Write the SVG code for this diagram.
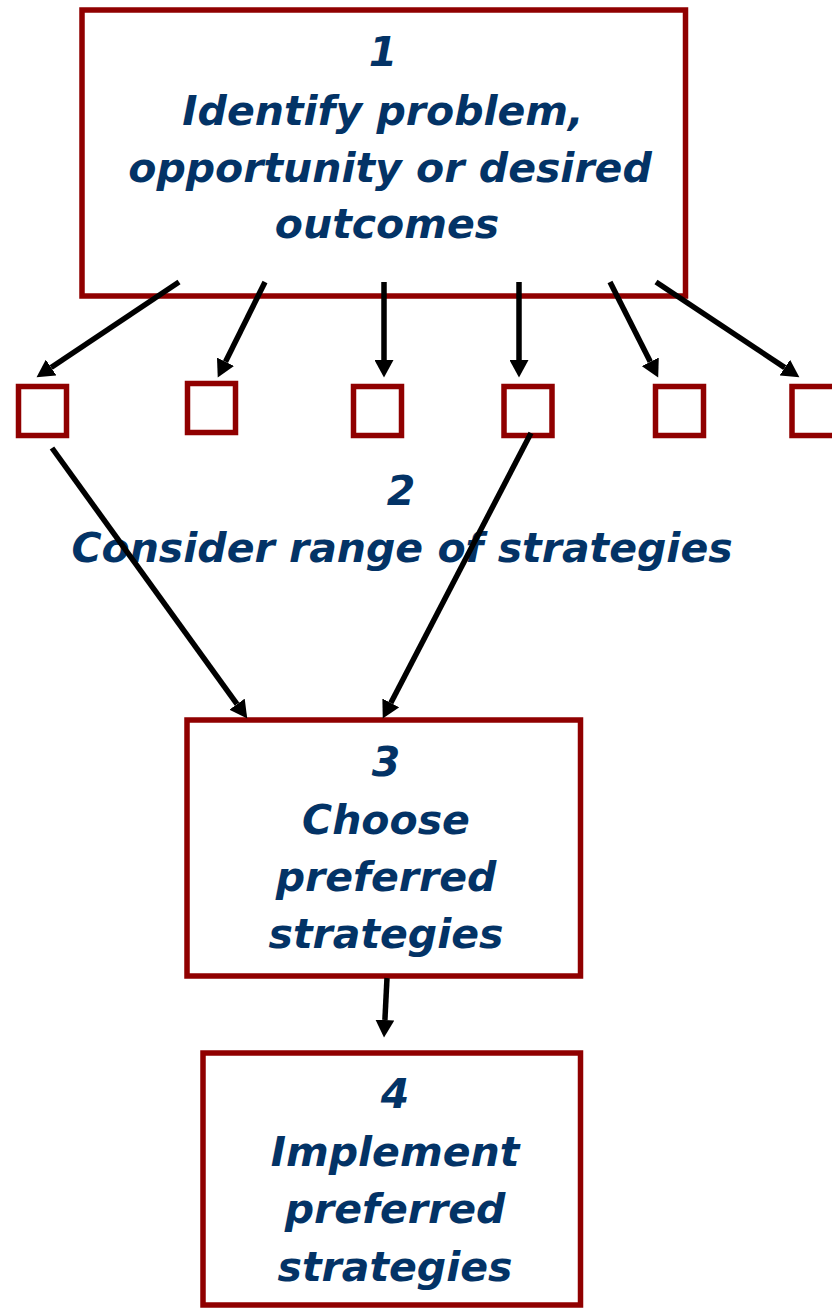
<svg xmlns="http://www.w3.org/2000/svg" width="832" height="1309" viewBox="0 0 832 1309">
  <style>
    .box { fill: #ffffff; stroke: #900000; stroke-width: 5.5; }
    .sq { fill: #ffffff; stroke: #900000; stroke-width: 5.5; }
    .lbl { font-family: "DejaVu Sans", "Liberation Sans", sans-serif; font-weight: bold; font-style: italic; font-size: 41px; fill: #033366; text-anchor: middle; }
    .arrow { stroke: #000000; stroke-width: 5.5; fill: none; marker-end: url(#head); }
  </style>
  <defs>
    <marker id="head" markerUnits="userSpaceOnUse" markerWidth="19" markerHeight="19" refX="0" refY="9.5" orient="auto" viewBox="0 0 19 19">
      <path d="M0,0 L17.5,9.5 L0,19 Z" fill="#000000"/>
    </marker>
  </defs>
  <rect width="832" height="1309" fill="#ffffff"/>

  <!-- Step 1 -->
  <g id="step1">
    <rect class="box" x="82" y="10" width="603.5" height="286"/>
    <text class="lbl" x="383" y="66">1</text>
    <text class="lbl" x="383" y="125">Identify problem,</text>
    <text class="lbl" x="390" y="182">opportunity or desired</text>
    <text class="lbl" x="387" y="238">outcomes</text>
  </g>

  <!-- Step 2: range of strategies -->
  <g id="step2">
    <rect class="sq" x="18.5" y="386.5" width="48" height="49"/>
    <rect class="sq" x="187.5" y="383.5" width="48" height="49"/>
    <rect class="sq" x="353.5" y="386.5" width="48" height="49"/>
    <rect class="sq" x="504" y="386.5" width="48" height="49"/>
    <rect class="sq" x="655.5" y="386.5" width="48" height="49"/>
    <rect class="sq" x="792" y="386.5" width="48" height="49"/>
    <text class="lbl" x="401" y="505">2</text>
    <text class="lbl" x="402" y="562">Consider range of strategies</text>
  </g>

  <!-- Step 3 -->
  <g id="step3">
    <rect class="box" x="187" y="720" width="393.5" height="256"/>
    <text class="lbl" x="386" y="776">3</text>
    <text class="lbl" x="386" y="834">Choose</text>
    <text class="lbl" x="386" y="891">preferred</text>
    <text class="lbl" x="386" y="948">strategies</text>
  </g>

  <!-- Step 4 -->
  <g id="step4">
    <rect class="box" x="203" y="1053" width="377.5" height="252"/>
    <text class="lbl" x="395" y="1108">4</text>
    <text class="lbl" x="395" y="1166">Implement</text>
    <text class="lbl" x="395" y="1223">preferred</text>
    <text class="lbl" x="395" y="1281">strategies</text>
  </g>

  <!-- Connectors -->
  <g id="connectors">
    <line class="arrow" x1="179" y1="282" x2="51.1" y2="367.5"/>
    <line class="arrow" x1="265" y1="282" x2="225.5" y2="361.8"/>
    <line class="arrow" x1="384" y1="282" x2="384" y2="360"/>
    <line class="arrow" x1="519" y1="282" x2="519" y2="360"/>
    <line class="arrow" x1="610" y1="282" x2="650.3" y2="361.8"/>
    <line class="arrow" x1="656" y1="282" x2="784.8" y2="367.6"/>
    <line class="arrow" x1="52" y1="448" x2="237" y2="704.2"/>
    <line class="arrow" x1="531" y1="433" x2="390.8" y2="702.9"/>
    <line class="arrow" x1="387" y1="978" x2="384.9" y2="1020"/>
  </g>
</svg>
